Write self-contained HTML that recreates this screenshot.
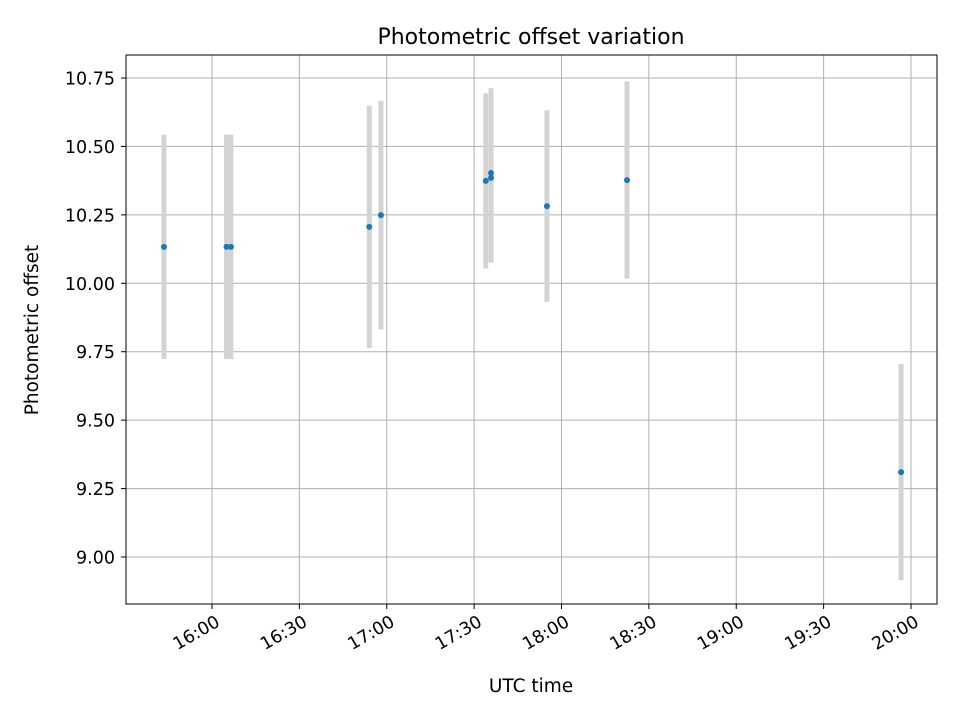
<!DOCTYPE html>
<html><head><meta charset="utf-8"><style>body{margin:0;background:#fff}svg{display:block;font-family:"DejaVu Sans","Liberation Sans",sans-serif}</style></head>
<body>
<svg id="chart" width="960" height="720">
<rect width="960" height="720" fill="#fff"/>
<g id="grid"></g>
<g id="bars"></g>
<g id="pts"></g>
<rect x="126" y="55" width="811" height="549" fill="none" stroke="#000" stroke-width="1"/>
<g id="axes"></g>
<text x="531" y="44" font-size="22" text-anchor="middle">Photometric offset variation</text>
<text x="531" y="692" font-size="18.5" text-anchor="middle">UTC time</text>
<text transform="translate(38,330) rotate(-90)" font-size="18.5" text-anchor="middle">Photometric offset</text>
</svg>
<script>
// times in minutes after midnight UTC
const times=[943.5,965,966.5,1014,1018,1054,1055.8,1055.8,1075,1102.5,1196.6];
const values=[10.133,10.133,10.133,10.206,10.249,10.374,10.403,10.385,10.282,10.377,9.31];
const errors=[0.41,0.41,0.41,0.443,0.418,0.32,0.31,0.31,0.35,0.36,0.395];
const xTicks=[960,990,1020,1050,1080,1110,1140,1170,1200];
const xTickLabels=["16:00","16:30","17:00","17:30","18:00","18:30","19:00","19:30","20:00"];
const yTicks=[9.0,9.25,9.5,9.75,10.0,10.25,10.5,10.75];
const yTickLabels=["9.00","9.25","9.50","9.75","10.00","10.25","10.50","10.75"];

const X=t=>212+(t-960)*(699/240);
const Y=v=>557-(v-9.0)*(479/1.75);
const NS="http://www.w3.org/2000/svg";
function mk(tag,attrs,parent,text){const e=document.createElementNS(NS,tag);for(const k in attrs)e.setAttribute(k,attrs[k]);if(text!==undefined)e.textContent=text;document.getElementById(parent).appendChild(e);return e;}
const L=126,R=937,T=55,B=604;
xTicks.forEach((t,i)=>{const x=X(t);
 let g=mk('line',{x1:x,x2:x,y1:T,y2:B,stroke:'#b0b0b0','stroke-width':1},'grid');
 
 
 let tk=mk('line',{x1:x,x2:x,y1:B,y2:B+5,stroke:'#000'},'axes');
 
 
 let lb=mk('text',{x:0,y:14,'font-size':17.5,'text-anchor':'end',transform:`translate(${x+2} ${B+9}) rotate(-30)`},'axes',xTickLabels[i]);
 
 
});
yTicks.forEach((v,i)=>{const y=Y(v);
 let g=mk('line',{x1:L,x2:R,y1:y,y2:y,stroke:'#b0b0b0','stroke-width':1},'grid');
 
 
 let tk=mk('line',{x1:L-5,x2:L,y1:y,y2:y,stroke:'#000'},'axes');
 
 
 let lb=mk('text',{x:L-11,y:y+6.5,'font-size':17.5,'text-anchor':'end'},'axes',yTickLabels[i]);
 
 
});
times.forEach((t,i)=>{const x=X(t);
 let b=mk('line',{x1:x,x2:x,y1:Y(values[i]+errors[i]),y2:Y(values[i]-errors[i]),stroke:'#d3d3d3','stroke-width':5},'bars');
 
 
});
times.forEach((t,i)=>{
 let p=mk('circle',{cx:X(t),cy:Y(values[i]),r:3,fill:'#1f77b4'},'pts');
 
 
});
</script>
</body></html>
